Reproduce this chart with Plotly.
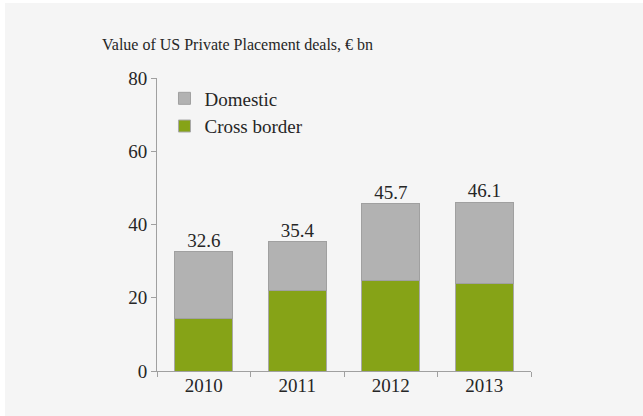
import plotly.graph_objects as go

years = ["2010", "2011", "2012", "2013"]
cross_border = [14.2, 22.0, 24.7, 24.0]
domestic = [18.4, 13.4, 21.0, 22.1]
totals = [32.6, 35.4, 45.7, 46.1]
total_labels = ["32.6", "35.4", "45.7", "46.1"]
y_ticks = [0, 20, 40, 60, 80]

FONT = "Liberation Serif"
TXT = "#262626"
AX = "#a0a0a0"

W, H = 638, 413

fig = go.Figure()
fig.add_trace(go.Bar(
    x=years, y=cross_border, name="Cross border",
    marker=dict(color="#86a317", line=dict(color="#a8a8a8", width=1)),
))
fig.add_trace(go.Bar(
    x=years, y=domestic, name="Domestic",
    marker=dict(color="#b2b2b2", line=dict(color="#a0a0a0", width=1)),
))
fig.add_trace(go.Scatter(
    x=years, y=totals, text=total_labels, mode="text",
    textposition="top center", showlegend=False,
    textfont=dict(family=FONT, size=19, color=TXT), hoverinfo="skip",
))

fig.update_layout(
    width=W, height=H,
    barmode="stack", bargap=0.38,
    paper_bgcolor="#f5f5f5", plot_bgcolor="#f5f5f5",
    margin=dict(l=152, r=112, t=75, b=45),
    font=dict(family=FONT, size=19, color=TXT),
    title=dict(text="Value of US Private Placement deals, \u20ac bn",
               x=97/W, xanchor="left", xref="container",
               y=1-41/H, yanchor="middle", yref="container",
               font=dict(family=FONT, size=16, color=TXT)),
    legend=dict(x=0.02, y=0.995, xanchor="left", yanchor="top",
                traceorder="reversed", bgcolor="rgba(0,0,0,0)",
                font=dict(family=FONT, size=19, color=TXT),
                tracegroupgap=0),
    showlegend=True,
)
fig.update_xaxes(
    range=[-0.5, 3.5], showline=True, linecolor=AX, linewidth=1,
    ticks="outside", tickson="boundaries", ticklen=5, tickcolor=AX,
    showgrid=False, zeroline=False, tickfont=dict(size=19),
    ticklabelstandoff=-3,
)
fig.update_yaxes(
    range=[0, 80], tickvals=y_ticks, showline=True, linecolor=AX, linewidth=1,
    ticks="outside", ticklen=5, tickcolor=AX, showgrid=False, zeroline=False,
    tickfont=dict(size=19),
)

fig.write_html("out.html", post_script="document.body.style.margin='3px 0 0 5px';")
